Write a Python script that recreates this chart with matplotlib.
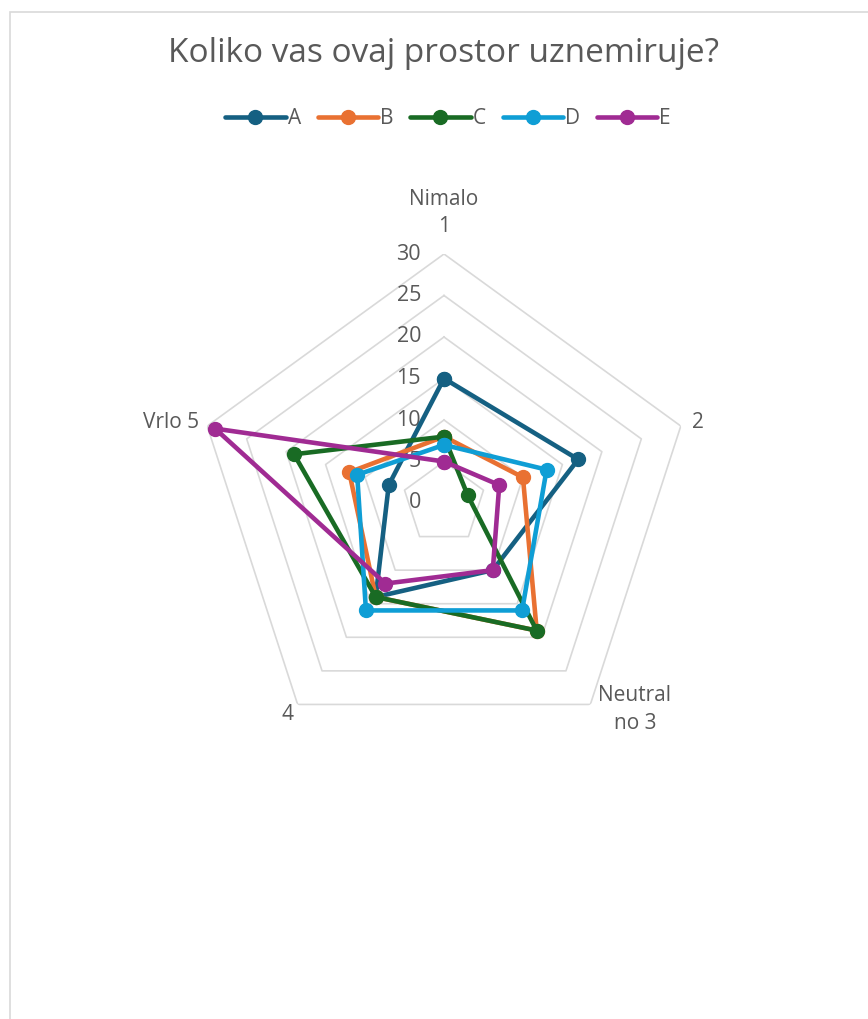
import numpy as np
import matplotlib
matplotlib.use("Agg")
import matplotlib.pyplot as plt
from matplotlib.patches import Rectangle

# survey answers per category (counts)
categories = ["Nimalo\n1", "2", "Neutral\nno 3", "4", "Vrlo 5"]
series_names = ["A", "B", "C", "D", "E"]
vals_A = [15, 17, 10, 14, 7]
vals_B = [8, 10, 19, 14, 12]
vals_C = [8, 3, 19, 14, 19]
vals_D = [7, 13, 16, 16, 11]
vals_E = [5, 7, 10, 12, 29]
r_ticks = [0, 5, 10, 15, 20, 25, 30]

colors = ["#156082", "#E97132", "#196B24", "#0F9ED5", "#A02B93"]
grey = "#595959"
plt.rcParams['font.family'] = ['Open Sans', 'DejaVu Sans']

W, H = 868, 1019
fig = plt.figure(figsize=(W / 100, H / 100), dpi=100)

cx, cy, R = 444, 503, 249
ax = fig.add_axes([(cx - R) / W, (H - cy - R) / H, 2 * R / W, 2 * R / H], projection='polar')
ax.set_theta_offset(np.pi / 2)
ax.set_theta_direction(-1)
ax.set_ylim(0, 30)
ax.grid(False)
ax.spines['polar'].set_visible(False)
ax.set_xticks([])
ax.set_yticks([])
ax.patch.set_alpha(0)

n = len(categories)
theta = np.arange(n) * 2 * np.pi / n
theta_c = np.append(theta, theta[0])

# pentagon grid
for lv in r_ticks[1:]:
    ax.plot(theta_c, [lv] * (n + 1), color="#d9d9d9", lw=1.2, zorder=1)

for lv in r_ticks:
    ax.annotate(str(lv), xy=(0, lv), xytext=(-23, 0), textcoords='offset pixels',
                ha='right', va='center', fontsize=15.5, color=grey)

all_vals = [vals_A, vals_B, vals_C, vals_D, vals_E]
for name, v, c in zip(series_names, all_vals, colors):
    ax.plot(theta_c, v + [v[0]], color=c, lw=3.3, marker='o', markersize=10,
            label=name, zorder=3, solid_capstyle='round')

# category labels
offs = [((0, 17), 'center', 'bottom'),
        ((11, 4), 'left', 'center'),
        ((8, 19), 'left', 'top'),
        ((-4, 0), 'right', 'top'),
        ((-8, 4), 'right', 'center')]
for t, lab, (o, ha, va) in zip(theta, categories, offs):
    ax.annotate(lab, xy=(t, 30), xytext=o, textcoords='offset pixels',
                ha=ha, va=va, fontsize=15, color=grey, multialignment='center',
                linespacing=1.4)

fig.text(cx / W, 1 - 53 / H, "Koliko vas ovaj prostor uznemiruje?",
         ha='center', va='center', fontsize=24, color=grey)

fig.legend(loc='center', bbox_to_anchor=(448 / W, 1 - 119 / H), ncol=5,
           frameon=False, fontsize=15, handlelength=2.9, columnspacing=0.8,
           handletextpad=0.1, labelcolor=grey)

fig.add_artist(Rectangle((10 / W, -0.1), 1.2, (H - 12) / H + 0.1, transform=fig.transFigure,
                         fill=False, edgecolor="#d9d9d9", lw=1.2))

fig.savefig("out.png", dpi=100)
